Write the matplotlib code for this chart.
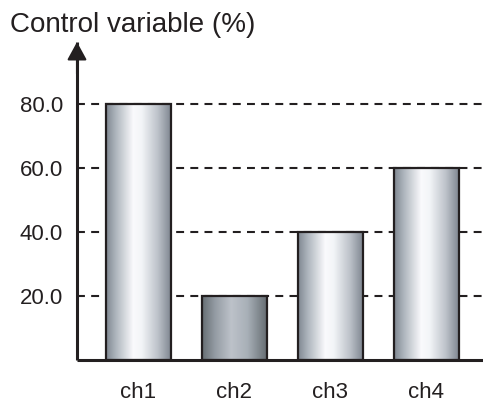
import matplotlib.pyplot as plt
import numpy as np
from matplotlib.colors import LinearSegmentedColormap

channels = ["ch1", "ch2", "ch3", "ch4"]
values = [80.0, 20.0, 40.0, 60.0]
yticks = [20.0, 40.0, 60.0, 80.0]
title = "Control variable (%)"

ink = "#231f20"
plt.rcParams["font.family"] = ["Liberation Sans", "DejaVu Sans"]

# metallic shading, bright streak a little left of centre
light = LinearSegmentedColormap.from_list("light", [
    (0.00, (0.50, 0.53, 0.57)),
    (0.15, (0.68, 0.71, 0.74)),
    (0.42, (0.98, 0.98, 0.99)),
    (0.55, (0.95, 0.96, 0.97)),
    (0.80, (0.74, 0.76, 0.79)),
    (1.00, (0.50, 0.53, 0.57)),
])
dark = LinearSegmentedColormap.from_list("dark", [
    (0.00, (0.40, 0.43, 0.45)),
    (0.20, (0.58, 0.61, 0.64)),
    (0.45, (0.74, 0.76, 0.79)),
    (0.70, (0.66, 0.69, 0.72)),
    (1.00, (0.40, 0.43, 0.45)),
])
shade = [light, dark, light, light]

fig = plt.figure(figsize=(4.83, 4.08), dpi=100)
ax = fig.add_axes([77 / 483, 48 / 408, 406 / 483, 318 / 408])

x = np.arange(len(channels))
width = 0.677
bars = ax.bar(x, values, width, facecolor="none", edgecolor=ink, linewidth=1.6, zorder=3)

grad = np.linspace(0, 1, 256).reshape(1, -1)
for bar, cmap in zip(bars, shade):
    x0, y0 = bar.get_x(), bar.get_y()
    im = ax.imshow(grad, cmap=cmap, aspect="auto", zorder=2,
                   extent=(x0, x0 + bar.get_width(), y0, y0 + bar.get_height()))
    im.set_clip_path(bar)

for yv in yticks:
    ax.axhline(yv, color=ink, linewidth=1.5, linestyle=(0, (3.8, 3.0)), zorder=1)

ax.set_xlim(-0.64, 3.589)
ax.set_ylim(0, 99.4)
ax.set_xticks(x, channels)
ax.set_yticks(yticks, [f"{v:.1f}" for v in yticks])
ax.tick_params(axis="x", length=0, pad=16, labelsize=16, colors=ink)
ax.tick_params(axis="y", length=0, pad=10, labelsize=16, colors=ink)

for side in ("top", "right"):
    ax.spines[side].set_visible(False)
for side in ("left", "bottom"):
    ax.spines[side].set_linewidth(2.2)
    ax.spines[side].set_color(ink)
    ax.spines[side].set_capstyle("butt")

# arrow head on the value axis
ax.annotate("", xy=(0, 1), xycoords="axes fraction", xytext=(0, 0.9),
            arrowprops=dict(arrowstyle="-|>,head_length=0.55,head_width=0.3",
                            mutation_scale=20, lw=1.5, color=ink,
                            shrinkA=0, shrinkB=0))

fig.text(10 / 483, 1 - 32 / 408, title, fontsize=20, color=ink, va="baseline", ha="left")

fig.savefig("out.png", dpi=100)
